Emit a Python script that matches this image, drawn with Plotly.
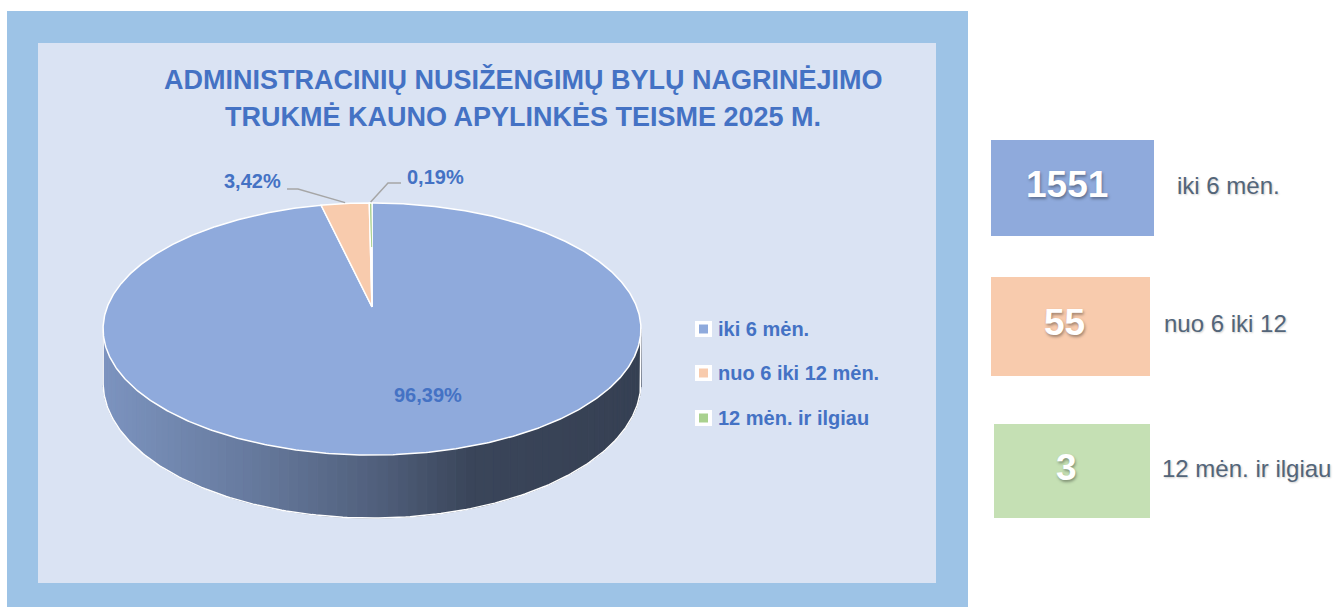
import numpy as np
import plotly.graph_objects as go

# ---------------- data ----------------
categories = ["iki 6 mėn.", "nuo 6 iki 12 mėn.", "12 mėn. ir ilgiau"]
card_labels = ["iki 6 mėn.", "nuo 6 iki 12", "12 mėn. ir ilgiau"]
counts = [1551, 55, 3]
percent_values = [96.39, 3.42, 0.19]
title_lines = ["ADMINISTRACINIŲ NUSIŽENGIMŲ BYLŲ NAGRINĖJIMO",
               "TRUKMĖ KAUNO APYLINKĖS TEISME 2025 M."]

# ---------------- style ----------------
slice_colors = ["#8FAADC", "#F8CBAD", "#A9D18E"]
card_colors = ["#8FAADC", "#F8CBAD", "#C5E0B4"]
BLUE_TXT = "#4472C4"
FONT = "Liberation Sans"

W, H = 1337, 607
# 3D pie projection parameters (pixel space)
CX, CY = 372, 307
A, B, K = 264.8, 122.2, 0.1746
DEPTH = 52


def proj(theta_deg, r=1.0):
    t = np.radians(theta_deg)
    u = r * np.sin(t)
    v = -r * np.cos(t)
    s = 1.0 / (1.0 - K * v)
    return CX + A * u * s, CY + B * v * s, s


def hex2rgb(h):
    h = h.lstrip("#")
    return tuple(int(h[i:i + 2], 16) for i in (0, 2, 4))


total = sum(percent_values)
fracs = [p / total for p in percent_values]
bounds = np.concatenate([[0.0], np.cumsum(fracs)]) * 360.0

fig = go.Figure()

# ---- side wall (front arc) with horizontal shading ----
thL = np.degrees(np.arccos(-K))
thR = 360.0 - thL
edges = np.linspace(thL, thR, 90)
shade_x = [103, 250, 380, 470, 641]
shade_f = [0.87, 0.72, 0.56, 0.41, 0.38]
for a0, a1 in zip(edges[:-1], edges[1:]):
    th = np.linspace(a0, a1, 4)
    xt, yt, st = proj(th)
    yb = yt + DEPTH * st
    mid = 0.5 * (a0 + a1)
    idx = int(np.searchsorted(bounds, mid, side="right") - 1)
    idx = min(max(idx, 0), len(percent_values) - 1)
    f = np.interp(xt.mean(), shade_x, shade_f)
    r, g, b = hex2rgb(slice_colors[idx])
    col = f"rgb({int(r * f)},{int(g * f)},{int(b * f)})"
    xs = list(xt) + list(xt[::-1]) + [xt[0]]
    ys = list(yt) + list(yb[::-1]) + [yt[0]]
    fig.add_trace(go.Scatter(x=xs, y=ys, mode="lines", fill="toself",
                             fillcolor=col, line=dict(color=col, width=1),
                             hoverinfo="skip", showlegend=False))

# side outline (bottom arc + vertical edges)
th = np.linspace(thL, thR, 200)
xt, yt, st = proj(th)
yb = yt + DEPTH * st
fig.add_trace(go.Scatter(x=[xt[0]] + list(xt) + [xt[-1]],
                         y=[yt[0]] + list(yb) + [yt[-1]],
                         mode="lines", line=dict(color="white", width=1.5),
                         hoverinfo="skip", showlegend=False))

# ---- top face slices ----
for i in range(len(percent_values)):
    n = max(3, int((bounds[i + 1] - bounds[i]) * 2))
    th = np.linspace(bounds[i], bounds[i + 1], n)
    xs, ys, _ = proj(th)
    fig.add_trace(go.Scatter(x=[CX] + list(xs) + [CX], y=[CY] + list(ys) + [CY],
                             mode="lines", fill="toself", fillcolor=slice_colors[i],
                             line=dict(color="white", width=1.5),
                             name=categories[i], hoverinfo="name", showlegend=False))
# keep the very thin slice visible
th = np.linspace(bounds[2], bounds[3], 3)
xs, ys, _ = proj(th)
fig.add_trace(go.Scatter(x=[CX - 0.3, xs.mean()],
                         y=[CY - 60, ys.mean() + 1], mode="lines",
                         line=dict(color=slice_colors[2], width=1),
                         hoverinfo="skip", showlegend=False))

# ---- data labels ----
pct = [f"{p:.2f}".replace(".", ",") + "%" for p in percent_values]
label_pos = [(428, 395), (252, 181), (435, 177)]
for i in range(3):
    fig.add_annotation(x=label_pos[i][0], y=label_pos[i][1], text=f"<b>{pct[i]}</b>",
                       showarrow=False, font=dict(family=FONT, size=20, color=BLUE_TXT),
                       xanchor="center", yanchor="middle")

# leader lines for small slices
for i, (bend, end) in zip([1, 2], [((298, 189), (287, 189)), ((388, 183), (401, 183))]):
    mid = 0.5 * (bounds[i] + bounds[i + 1])
    x0, y0, _ = proj(mid)
    fig.add_trace(go.Scatter(x=[float(x0), bend[0], end[0]], y=[float(y0) - 1, bend[1], end[1]],
                             mode="lines", line=dict(color="#A6A6A6", width=1.5),
                             hoverinfo="skip", showlegend=False))

# ---- title ----
for line, yy in zip(title_lines, [79, 117]):
    fig.add_annotation(x=523, y=yy, text=f"<b>{line}</b>", showarrow=False,
                       font=dict(family=FONT, size=27, color=BLUE_TXT),
                       xanchor="center", yanchor="middle")

# ---- legend ----
shapes = []
leg_y = [329, 373, 418]
for i, cat in enumerate(categories):
    yy = leg_y[i]
    shapes.append(dict(type="rect", xref="x", yref="y", x0=695, x1=712, y0=yy - 8, y1=yy + 8,
                       fillcolor="white", line=dict(width=0), layer="above"))
    shapes.append(dict(type="rect", xref="x", yref="y", x0=699, x1=708, y0=yy - 4.5, y1=yy + 4.5,
                       fillcolor=slice_colors[i], line=dict(width=0), layer="above"))
    fig.add_annotation(x=716, y=yy, text=f"<b>{cat}</b>", showarrow=False,
                       font=dict(family=FONT, size=20, color=BLUE_TXT),
                       xanchor="left", yanchor="middle")

# ---- cards on the right ----
card_boxes = [(991, 1154, 140, 236), (991, 1150, 277, 376), (994, 1150, 424, 518)]
card_text_x = [1175, 1162, 1160]
for i, c in enumerate(counts):
    x0, x1, y0, y1 = card_boxes[i]
    shapes.append(dict(type="rect", xref="x", yref="y", x0=x0, x1=x1, y0=y0, y1=y1,
                       fillcolor=card_colors[i], line=dict(width=0), layer="below"))
    fig.add_annotation(x=(x0 + x1) / 2 - 6, y=(y0 + y1) / 2 - 4, text=f"<b>{c}</b>",
                       showarrow=False,
                       font=dict(family=FONT, size=37, color="white",
                                 shadow="1px 2px 3px rgba(0,0,0,0.35)"),
                       xanchor="center", yanchor="middle")
    fig.add_annotation(x=card_text_x[i], y=(y0 + y1) / 2 - 3, text=card_labels[i],
                       showarrow=False,
                       font=dict(family=FONT, size=24, color="#536579",
                                 shadow="1px 1px 2px rgba(0,0,0,0.2)"),
                       xanchor="left", yanchor="middle")

# ---- backgrounds ----
bg = [dict(type="rect", xref="x", yref="y", x0=7, x1=968, y0=11, y1=607,
           fillcolor="#9DC3E6", line=dict(width=0), layer="below"),
      dict(type="rect", xref="x", yref="y", x0=38, x1=936, y0=43, y1=583,
           fillcolor="#DAE3F3", line=dict(width=0), layer="below")]

fig.update_layout(
    width=W, height=H,
    margin=dict(l=0, r=0, t=0, b=0),
    paper_bgcolor="white", plot_bgcolor="white",
    shapes=bg + shapes,
    xaxis=dict(range=[0, W], visible=False, fixedrange=True),
    yaxis=dict(range=[H, 0], visible=False, fixedrange=True),
    showlegend=False,
)

fig.write_html("out.html", config={"displayModeBar": False},
               post_script="document.body.style.margin='0';document.body.style.overflow='hidden';")
